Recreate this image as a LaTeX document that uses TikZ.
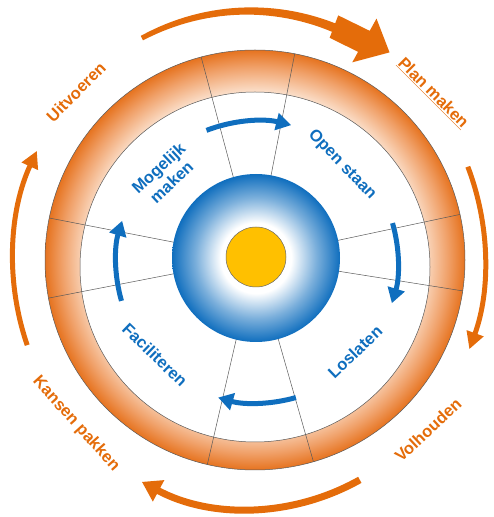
\documentclass[tikz,border=0pt]{standalone}
\usepackage{fontspec}
\setmainfont{Liberation Sans}
\usepackage{xcolor}
\usetikzlibrary{arrows.meta}

\definecolor{cam}{HTML}{E46C0A}
\definecolor{camdam}{HTML}{E6731F}
\definecolor{camvua}{HTML}{F0A068}
\definecolor{camnhat}{HTML}{FDEBDD}
\definecolor{xanh}{HTML}{0F6EBE}
\definecolor{vang}{HTML}{FFC000}

\pgfdeclareradialshading{vongcam}{\pgfpoint{0bp}{0bp}}{color(0bp)=(white); color(19.5bp)=(camnhat); color(23bp)=(camvua); color(25bp)=(camdam); color(50bp)=(camdam)}
\pgfdeclareradialshading{loixanh}{\pgfpoint{0bp}{0bp}}{color(0bp)=(white); color(10.5bp)=(white); color(18bp)=(xanh!55!white); color(25bp)=(xanh); color(50bp)=(xanh)}

\begin{document}
\begin{tikzpicture}[x=1pt, y=1pt,
    vach/.style={draw=black!65, line width=0.5pt},
    muixanh/.style={draw=xanh, line width=5pt, -{Triangle[length=15pt, width=17pt]}},
    muicam/.style={draw=cam, line width=5pt, -{Triangle[length=17pt, width=17pt]}},
    nhancam/.style={text=cam, font=\bfseries\fontsize{16.5}{19}\selectfont},
    nhanxanh/.style={text=xanh, font=\bfseries\fontsize{16.5}{19}\selectfont, align=center}]
    \useasboundingbox (0,0) rectangle (494,517);
    \coordinate (tam) at (255,259);
    \coordinate (tamngoai) at (255,257);
    \coordinate (tamtrong) at (255,250);

    % 1. Vành cam
    \path[shading=vongcam, even odd rule] (tamngoai) circle (210) (tamtrong) circle (175);
    \begin{scope}
        \clip (tamngoai) circle (210);
        \foreach \g in {79,105,169,191,-9,12,-74,-103}
            \draw[vach] (tam) -- ++(\g:220);
    \end{scope}
    \draw[vach] (tamngoai) circle (210);
    \draw[vach] (tamtrong) circle (175);

    % 2. Lõi xanh và tâm vàng
    \shade[shading=loixanh] (256,259) circle (84);
    \filldraw[fill=vang, draw=black!60, line width=0.5pt] (256,260) circle (30);

    % 3. Mũi tên xanh bên trong
    \foreach \a/\b in {111/76, 16/-17, -74/-106, 196/163}
        \draw[muixanh] ([shift={(\a:141)}]257,255) arc[start angle=\a, end angle=\b, radius=141];

    % 4. Mũi tên cam bên ngoài
    \draw[muicam] ([shift={(22:236 and 249)}]249,257)
        arc[start angle=22, end angle=-21, x radius=236, y radius=249];
    \draw[muicam, line width=7pt, -{Triangle[length=19pt, width=23pt]}] ([shift={(-62:236 and 249)}]249,257)
        arc[start angle=-62, end angle=-117, x radius=236, y radius=249];
    \draw[muicam] ([shift={(200:236 and 249)}]249,257)
        arc[start angle=200, end angle=154, x radius=236, y radius=249];
    \begin{scope}[shift={(249,257)}]
        \fill[cam] plot[domain=117:69, samples=30]
            ({(236+(5+4*(117-\x)/48)/2)*cos(\x)}, {(249+(5+4*(117-\x)/48)/2)*sin(\x)})
            -- ({249*cos(69)}, {262*sin(69)})
            -- ({249*cos(61)}, {262*sin(61)})
            -- ({263*cos(61)}, {276*sin(61)})
            -- ({242*cos(54.5)}, {255*sin(54.5)})
            -- ({213*cos(61)}, {226*sin(61)})
            -- ({225*cos(61)}, {238*sin(61)})
            -- ({225*cos(69)}, {238*sin(69)})
            -- plot[domain=69:117, samples=30]
            ({(236-(5+4*(117-\x)/48)/2)*cos(\x)}, {(249-(5+4*(117-\x)/48)/2)*sin(\x)})
            -- cycle;
    \end{scope}

    % 5. Nhãn
    \node[nhancam, rotate=45] (uitvoeren) at (76,425) {Uitvoeren};
    \node[nhancam, rotate=-45] (planmaken) at (433,424) {\underline{Plan maken}};
    \node[nhancam, rotate=43] (volhouden) at (428,87) {Volhouden};
    \node[nhancam, rotate=-48] (kansen) at (76,93) {Kansen pakken};
    \node[nhanxanh, rotate=43] (mogelijk) at (165,342) {Mogelijk\\maken};
    \node[nhanxanh, rotate=-46] (openstaan) at (342,352) {Open staan};
    \node[nhanxanh, rotate=44] (loslaten) at (355,165) {Loslaten};
    \node[nhanxanh, rotate=-44] (faciliteren) at (155,162) {Faciliteren};
\end{tikzpicture}
\end{document}
